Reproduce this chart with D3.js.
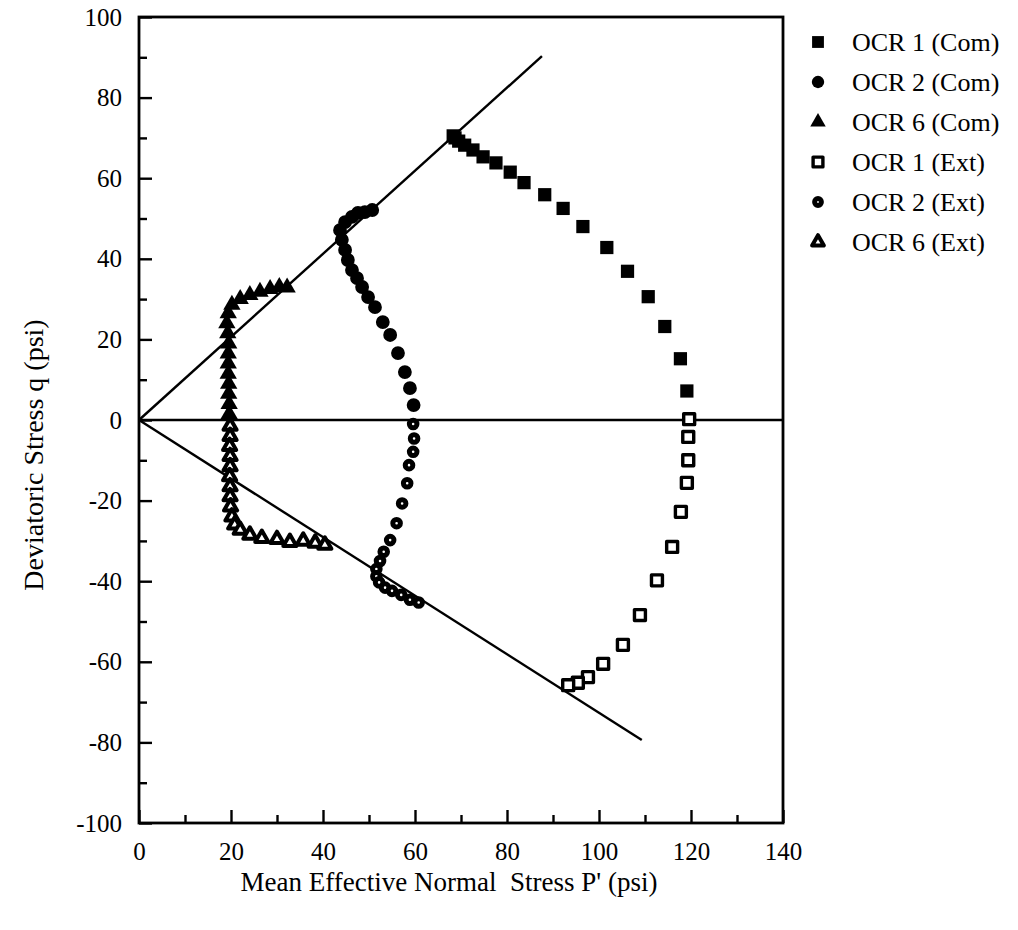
<!DOCTYPE html>
<html>
<head>
<meta charset="utf-8">
<script src="https://cdn.jsdelivr.net/npm/d3@7"></script>
<style>
  body { margin: 0; background: #fff; }
  text { font-family: "Liberation Serif", "Times New Roman", serif; fill: #000; white-space: pre; }
  .axis path { display: none; }
  .axis line { stroke: #000; stroke-width: 2.4; }
</style>
</head>
<body>
<div class="chart"></div>
<script>
// DATA ------------------------------------

// [p', q] pairs
const ocr1Com = [[119.1,7.2],[117.7,15.2],[114.3,23.2],[110.7,30.6],[106.2,36.9],[101.7,42.8],[96.5,48.0],[92.2,52.5],[88.2,55.9],[83.7,58.9],[80.7,61.5],[77.6,63.8],[74.8,65.3],[72.6,67.0],[70.8,68.2],[69.5,69.2],[68.7,70.0],[68.3,70.5]];
const ocr2Com = [[59.7,3.7],[58.9,7.9],[57.8,11.9],[56.3,16.6],[54.6,21.1],[53.0,24.3],[51.3,28.0],[49.8,30.5],[48.5,33.0],[47.4,35.2],[46.3,37.2],[45.4,39.7],[44.8,42.2],[44.1,44.7],[43.7,47.1],[44.8,49.1],[46.3,50.4],[47.6,51.4],[49.1,51.6],[50.7,52.1]];
const ocr6Com = [[19.6,1.5],[19.6,4.0],[19.5,6.5],[19.5,9.0],[19.4,11.5],[19.4,14.0],[19.4,16.5],[19.5,19.0],[19.3,21.5],[19.1,24.0],[19.4,26.5],[20.2,28.6],[22.0,30.0],[24.1,31.0],[26.3,31.8],[28.5,32.5],[30.5,33.0],[32.2,32.9]];
const ocr1Ext = [[119.6,0.2],[119.4,-4.2],[119.4,-10.0],[119.1,-15.6],[117.8,-22.8],[115.9,-31.5],[112.6,-39.8],[108.9,-48.4],[105.2,-55.8],[100.9,-60.5],[97.6,-63.8],[95.4,-65.2],[93.3,-65.8]];
const ocr2Ext = [[59.6,-1.0],[59.8,-4.6],[59.6,-7.9],[58.7,-11.2],[58.3,-15.7],[57.2,-20.7],[56.0,-25.6],[54.6,-29.8],[53.2,-32.7],[52.4,-35.0],[51.6,-37.0],[51.6,-38.8],[52.2,-40.3],[53.5,-41.6],[55.0,-42.4],[57.0,-43.4],[58.9,-44.6],[60.8,-45.3]];
const ocr6Ext = [[19.8,-1.5],[19.8,-4.0],[19.7,-6.5],[19.8,-9.0],[19.8,-11.5],[19.7,-14.0],[19.8,-16.5],[19.8,-19.0],[19.9,-21.5],[20.2,-24.0],[20.8,-26.0],[22.0,-27.3],[24.1,-28.5],[26.7,-29.3],[30.0,-29.6],[32.8,-30.3],[35.7,-30.0],[38.3,-30.5],[40.4,-31.0]];

// reference lines
const upperLine = [[0,0],[87.6,90.3]];
const lowerLine = [[0,0],[109.3,-79.4]];
const zeroLine = [[0,0],[140,0]];

const xTicks = [0,20,40,60,80,100,120,140];
const yTicks = [-100,-80,-60,-40,-20,0,20,40,60,80,100];
const legendLabels = ["OCR 1 (Com)","OCR 2 (Com)","OCR 6 (Com)","OCR 1 (Ext)","OCR 2 (Ext)","OCR 6 (Ext)"];

// CHART INIT ------------------------------

const margin = ({top: 17, right: 235, bottom: 107, left: 139});
const width = 1018 - margin.left - margin.right;
const height = 930 - margin.top - margin.bottom;

const svg = d3.select(".chart").append("svg")
    .attr("width", 1018)
    .attr("height", 930)
    .append("g")
    .attr("transform", "translate(" + margin.left + "," + margin.top + ")");

const xScale = d3.scaleLinear().domain([0, 140]).range([0, width]);
const yScale = d3.scaleLinear().domain([-100, 100]).range([height, 0]);

// axes, ticks pointing inward
const xAxis = d3.axisBottom(xScale).tickValues(xTicks).tickSize(-13).tickPadding(19).tickFormat(d => String(d));
const xMinor = d3.axisBottom(xScale).tickValues(d3.range(10, 140, 20)).tickSize(-8).tickFormat("");
const yAxis = d3.axisLeft(yScale).tickValues(yTicks).tickSize(-13).tickPadding(17).tickFormat(d => String(d));
const yMinor = d3.axisLeft(yScale).tickValues(d3.range(-90, 100, 20)).tickSize(-8).tickFormat("");

svg.append("g").attr("class", "axis").attr("transform", `translate(0, ${height})`).call(xAxis)
    .selectAll("text").style("font-size", "25px");
svg.append("g").attr("class", "axis").attr("transform", `translate(0, ${height})`).call(xMinor);
svg.append("g").attr("class", "axis").call(yAxis)
    .selectAll("text").style("font-size", "25px");
svg.append("g").attr("class", "axis").call(yMinor);

svg.append("rect")
    .attr("width", width)
    .attr("height", height)
    .attr("fill", "none")
    .attr("stroke", "#000")
    .attr("stroke-width", 2.8);

// axis titles
svg.append("text")
    .attr("x", 310)
    .attr("y", 874)
    .attr("text-anchor", "middle")
    .style("font-size", "27px")
    .text("Mean Effective Normal  Stress P' (psi)");

svg.append("text")
    .attr("transform", "translate(-96," + 438 + ") rotate(-90)")
    .attr("text-anchor", "middle")
    .style("font-size", "28px")
    .text("Deviatoric Stress q (psi)");

// LINES -----------------------------------

const line = d3.line().x(d => xScale(d[0])).y(d => yScale(d[1]));

[upperLine, lowerLine, zeroLine].forEach(l => {
    svg.append("path")
        .attr("d", line(l))
        .attr("fill", "none")
        .attr("stroke", "#000")
        .attr("stroke-width", 2.4);
});

// MARKERS ---------------------------------

const styles = [
    {type: d3.symbolSquare, size: 175, fill: "#000", sw: 0},
    {type: d3.symbolCircle, size: 150, fill: "#000", sw: 0},
    {type: d3.symbolTriangle, size: 130, fill: "#000", sw: 0},
    {type: d3.symbolSquare, size: 120, fill: "#fff", sw: 3.4},
    {type: d3.symbolCircle, size: 45, fill: "#fff", sw: 5},
    {type: d3.symbolTriangle, size: 75, fill: "#fff", sw: 4}
];
const series = [ocr1Com, ocr2Com, ocr6Com, ocr1Ext, ocr2Ext, ocr6Ext];

series.forEach((s, i) => {
    const st = styles[i];
    svg.append("g").selectAll("path")
        .data(s)
        .enter()
        .append("path")
        .attr("transform", d => `translate(${xScale(d[0])},${yScale(d[1])})`)
        .attr("d", d3.symbol().type(st.type).size(st.size))
        .attr("fill", st.fill)
        .attr("stroke", "#000")
        .attr("stroke-width", st.sw)
        .attr("stroke-linejoin", "round");
});

// LEGEND ----------------------------------

const legend = svg.append("g").attr("transform", `translate(${818 - margin.left}, ${42 - margin.top})`);

legendLabels.forEach((lab, i) => {
    const st = styles[i];
    const row = legend.append("g").attr("transform", `translate(0, ${i * 40})`);
    row.append("path")
        .attr("d", d3.symbol().type(st.type).size(st.size * 0.8))
        .attr("fill", st.fill)
        .attr("stroke", "#000")
        .attr("stroke-width", st.sw)
        .attr("stroke-linejoin", "round");
    row.append("text")
        .attr("x", 34)
        .attr("dy", "0.35em")
        .style("font-size", "26px")
        .text(lab);
});
</script>
</body>
</html>
